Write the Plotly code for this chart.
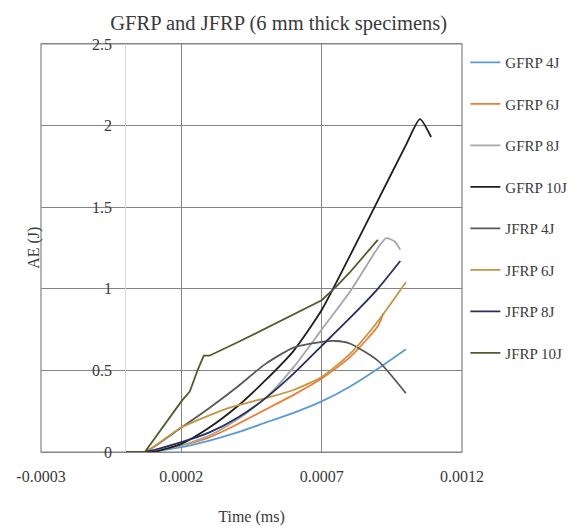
import plotly.graph_objects as go

# ---- data (time in ms-axis units, AE in J) ----
gfrp4_x = [0, 0.00007, 0.0002, 0.0003, 0.0004, 0.0005, 0.0006, 0.0007, 0.0008, 0.0009, 0.001]
gfrp4_y = [0, 0, 0.03, 0.07, 0.12, 0.18, 0.24, 0.31, 0.40, 0.51, 0.63]

gfrp6_x = [0, 0.00007, 0.0002, 0.0003, 0.0004, 0.0005, 0.0006, 0.0007, 0.0008, 0.0009, 0.00092]
gfrp6_y = [0, 0, 0.04, 0.09, 0.17, 0.26, 0.35, 0.45, 0.58, 0.77, 0.85]

gfrp8_x = [0, 0.00007, 0.0002, 0.0003, 0.0004, 0.0005, 0.0006, 0.0007, 0.0008, 0.0009, 0.00093, 0.00096, 0.00098]
gfrp8_y = [0, 0, 0.04, 0.10, 0.20, 0.33, 0.52, 0.75, 0.98, 1.25, 1.31, 1.29, 1.24]

gfrp10_x = [0, 0.0001, 0.0002, 0.0003, 0.0004, 0.0005, 0.0006, 0.0007, 0.0008, 0.0009, 0.001, 0.00105, 0.00109]
gfrp10_y = [0, 0, 0.05, 0.15, 0.28, 0.44, 0.62, 0.87, 1.20, 1.54, 1.88, 2.04, 1.93]

jfrp4_x = [0, 0.00007, 0.0002, 0.0003, 0.0004, 0.0005, 0.0006, 0.0007, 0.00075, 0.0008, 0.0009, 0.001]
jfrp4_y = [0, 0, 0.15, 0.27, 0.40, 0.54, 0.64, 0.675, 0.68, 0.665, 0.56, 0.36]

jfrp6_x = [0, 0.00007, 0.0002, 0.00037, 0.0005, 0.0006, 0.0007, 0.0008, 0.0009, 0.001]
jfrp6_y = [0, 0, 0.15, 0.27, 0.33, 0.38, 0.46, 0.60, 0.80, 1.04]

jfrp8_x = [0, 0.00007, 0.0002, 0.0003, 0.0004, 0.0005, 0.0006, 0.0007, 0.0008, 0.0009, 0.00098]
jfrp8_y = [0, 0, 0.06, 0.12, 0.21, 0.33, 0.48, 0.65, 0.82, 1.00, 1.17]

jfrp10_x = [0, 0.00007, 0.0002, 0.00023, 0.00026, 0.00028, 0.0003, 0.00041, 0.0007, 0.00075, 0.0008, 0.00085, 0.0009]
jfrp10_y = [0, 0, 0.31, 0.37, 0.51, 0.59, 0.59, 0.68, 0.93, 1.01, 1.10, 1.20, 1.30]

series_names = ["GFRP 4J", "GFRP 6J", "GFRP 8J", "GFRP 10J", "JFRP 4J", "JFRP 6J", "JFRP 8J", "JFRP 10J"]
series_x = [gfrp4_x, gfrp6_x, gfrp8_x, gfrp10_x, jfrp4_x, jfrp6_x, jfrp8_x, jfrp10_x]
series_y = [gfrp4_y, gfrp6_y, gfrp8_y, gfrp10_y, jfrp4_y, jfrp6_y, jfrp8_y, jfrp10_y]
series_colors = ["#5B9BD5", "#ED7D31", "#A5A5A5", "#1E1E1E", "#595959", "#C39545", "#27305E", "#4B5E2B"]
series_shape = ["spline", "spline", "spline", "spline", "spline", "spline", "spline", "linear"]

x_tickvals = [-0.0003, 0.0002, 0.0007, 0.0012]
x_ticktext = ["-0.0003", "0.0002", "0.0007", "0.0012"]
y_tickvals = [0, 0.5, 1, 1.5, 2, 2.5]
y_ticktext = ["0", "0.5", "1", "1.5", "2", "2.5"]

FONT = "Liberation Serif, Times New Roman, serif"
GRID = "#848484"
TXT = "#3A3A3A"

fig = go.Figure()
for i, name in enumerate(series_names):
    fig.add_trace(go.Scatter(
        x=series_x[i], y=series_y[i], mode="lines", name=name,
        line=dict(color=series_colors[i], width=1.8, shape=series_shape[i], smoothing=0.6),
        legendgroup=name,
    ))

fig.update_layout(
    width=577, height=529,
    margin=dict(l=41, r=115, t=44, b=77, autoexpand=False),
    paper_bgcolor="white", plot_bgcolor="white",
    font=dict(family=FONT, size=15, color=TXT),
    title=dict(text="GFRP and JFRP (6 mm thick specimens)", x=0.483, xanchor="center",
               y=0.957, yanchor="middle", font=dict(family=FONT, size=20.5, color=TXT)),
    showlegend=True,
    legend=dict(x=1.008, xanchor="left", y=0.995, yanchor="top",
                font=dict(family=FONT, size=15, color=TXT),
                tracegroupgap=19, bgcolor="rgba(0,0,0,0)"),
    xaxis=dict(range=[-0.0003, 0.0012], tickvals=x_tickvals, ticktext=x_ticktext,
               showgrid=True, gridcolor=GRID, gridwidth=1.2, zeroline=False,
               showline=True, linecolor=GRID, linewidth=1.2, mirror=True,
               ticks="outside", ticklen=10, tickcolor="rgba(0,0,0,0)",
               tickfont=dict(family=FONT, size=16, color=TXT),
               title=dict(text="Time (ms)", font=dict(family=FONT, size=16, color=TXT), standoff=26)),
    yaxis=dict(range=[0, 2.5], tickvals=y_tickvals, ticktext=y_ticktext,
               showgrid=True, gridcolor=GRID, gridwidth=1.2, zeroline=False,
               anchor="free", position=0.2,
               showline=True, linecolor="#D9D9D9", linewidth=1,
               ticks="outside", ticklen=10, tickcolor="rgba(0,0,0,0)",
               tickfont=dict(family=FONT, size=16, color=TXT)),
    shapes=[dict(type="rect", xref="paper", yref="paper", x0=0, x1=1, y0=0, y1=1,
                 line=dict(color=GRID, width=1.2), fillcolor="rgba(0,0,0,0)", layer="below")],
    annotations=[dict(text="AE (J)", xref="paper", yref="paper", x=-0.017, y=0.5,
                      xanchor="center", yanchor="middle", textangle=-90, showarrow=False,
                      font=dict(family=FONT, size=16, color=TXT))],
)

fig.write_html("out.html")
